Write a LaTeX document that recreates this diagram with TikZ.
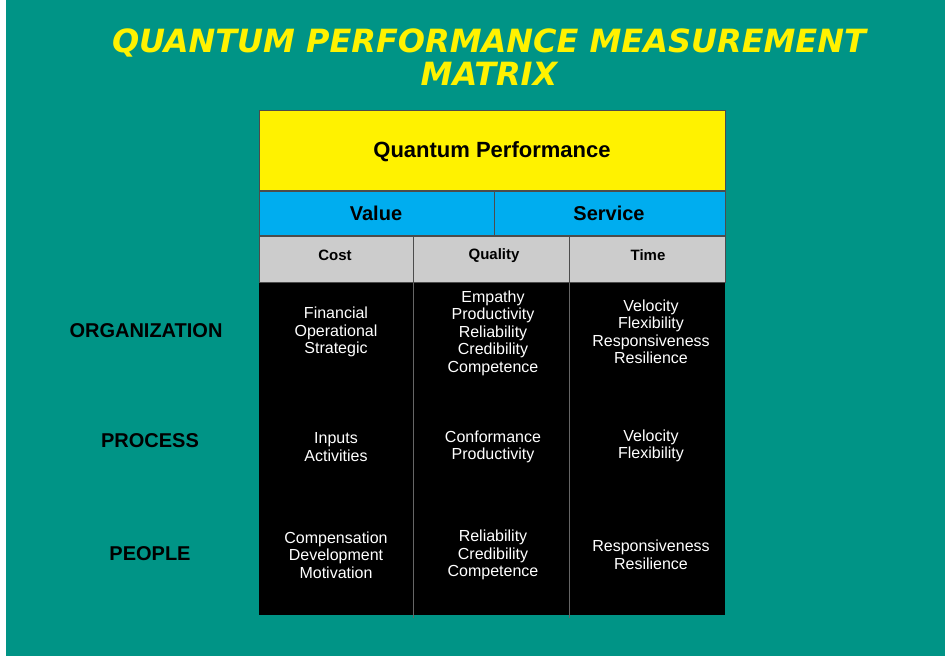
\documentclass[tikz,border=0pt]{standalone}
\usepackage{fontspec}
\setmainfont{Liberation Sans}
\newfontfamily\titlefont{DejaVu Sans}
\definecolor{teal2}{RGB}{0,148,134}
\definecolor{cellgray}{RGB}{204,204,204}
\begin{document}
\begin{tikzpicture}[x=1pt,y=-1pt,
  cell/.style={draw=black!70,line width=1pt},
  txt/.style={align=center,font=\fontsize{16}{17.5}\selectfont,text=white},
  hdr/.style={font=\bfseries\fontsize{15}{17}\selectfont},
  rowlab/.style={font=\bfseries\fontsize{20}{22}\selectfont}]
\useasboundingbox (0,0) rectangle (950,658);
\fill[teal2] (6,0) rectangle (945,656);
\node[font=\titlefont\bfseries\itshape\fontsize{32}{33}\selectfont,text=yellow,align=center] (title) at (489,57) {QUANTUM PERFORMANCE MEASUREMENT\\MATRIX};
\draw[cell,fill=yellow] (259,111) rectangle (725,190);
\node[font=\bfseries\fontsize{22}{24}\selectfont] (qp) at (492,152) {Quantum Performance};
\draw[cell,fill=cyan] (259,191) rectangle (494,235);
\draw[cell,fill=cyan] (494,191) rectangle (725,235);
\node[font=\bfseries\fontsize{20}{22}\selectfont] (val) at (376,213) {Value};
\node[font=\bfseries\fontsize{20}{22}\selectfont] (srv) at (609,213) {Service};
\draw[cell,fill=cellgray] (259,236) rectangle (413,282);
\draw[cell,fill=cellgray] (413,236) rectangle (569,282);
\draw[cell,fill=cellgray] (569,236) rectangle (725,282);
\node[hdr] (cost) at (335,255) {Cost};
\node[hdr] (qual) at (494,256) {Quality};
\node[hdr] (time) at (648,255) {Time};
\fill[black] (259,283) rectangle (725,615);
\draw[black!60] (413,283) -- (413,618) (569,283) -- (569,618);
\node[rowlab] (org) at (146,331) {ORGANIZATION};
\node[rowlab] (proc) at (150,441) {PROCESS};
\node[rowlab] (peo) at (150,554) {PEOPLE};
\node[txt] (c11) at (336,332) {Financial\\Operational\\Strategic};
\node[txt] (c12) at (493,333) {Empathy\\Productivity\\Reliability\\Credibility\\Competence};
\node[txt] (c13) at (651,332) {Velocity\\Flexibility\\Responsiveness\\Resilience};
\node[txt] (c21) at (336,447) {Inputs\\Activities};
\node[txt] (c22) at (493,447) {Conformance\\Productivity};
\node[txt] (c23) at (651,446) {Velocity\\Flexibility};
\node[txt] (c31) at (336,555) {Compensation\\Development\\Motivation};
\node[txt] (c32) at (493,555) {Reliability\\Credibility\\Competence};
\node[txt] (c33) at (651,555) {Responsiveness\\Resilience};
\end{tikzpicture}
\end{document}
